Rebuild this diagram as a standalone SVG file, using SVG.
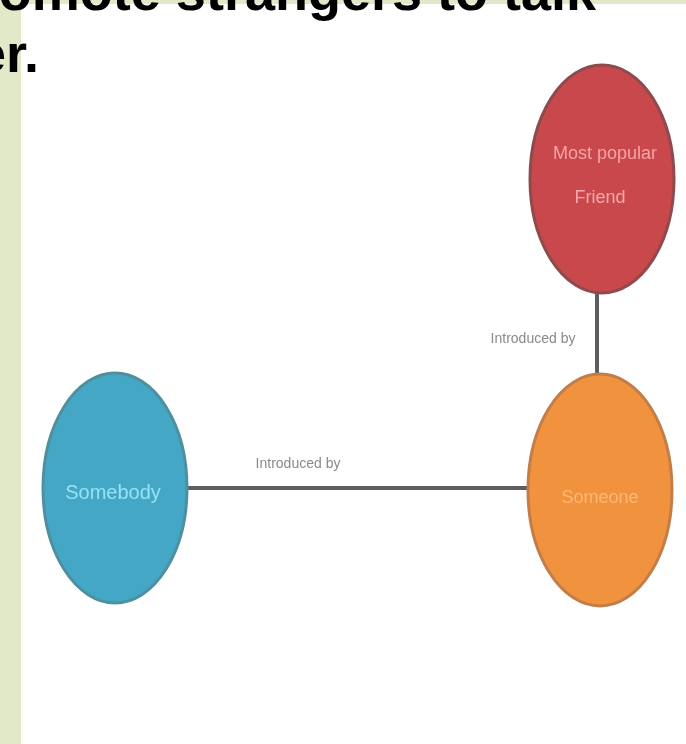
<svg xmlns="http://www.w3.org/2000/svg" width="686" height="744" viewBox="0 0 686 744">
<style>
.head{font-family:"Liberation Sans",Arial,sans-serif;font-weight:bold;font-size:54px;fill:#000}
.lbl{font-family:"Liberation Sans",Arial,sans-serif;font-size:14px;fill:#8a8a8a}
.nt{font-family:"Liberation Sans",Arial,sans-serif;font-size:18px;text-anchor:middle}
.conn{stroke:#5e5e5e;stroke-width:4;fill:none}
</style>
<defs>
<filter id="soft" x="-10%" y="-10%" width="120%" height="120%"><feGaussianBlur stdDeviation="0.7"/></filter>
</defs>
<rect x="0" y="0" width="686" height="744" fill="#e1e9c9"/>
<rect x="21" y="4" width="665" height="740" fill="#ffffff"/>
<text class="head" x="596" y="10" text-anchor="end">omote strangers to talk</text>
<text class="head" x="39" y="72" text-anchor="end">er.</text>
<g id="connectors">
<line class="conn" x1="597" y1="292" x2="597" y2="376"/>
<line class="conn" x1="186" y1="488" x2="528" y2="488"/>
<text class="lbl" x="533" y="343" text-anchor="middle" filter="url(#soft)">Introduced by</text>
<text class="lbl" x="298" y="468" text-anchor="middle" filter="url(#soft)">Introduced by</text>
</g>
<g id="node-friend">
<ellipse cx="602" cy="179" rx="72" ry="114" fill="#c9484b" stroke="#8e4a4c" stroke-width="3"/>
<text class="nt" x="605" y="159" fill="#f6a3a6" filter="url(#soft)">Most popular</text>
<text class="nt" x="600" y="203" fill="#f6a8ac" filter="url(#soft)">Friend</text>
</g>
<g id="node-orange">
<ellipse cx="600" cy="490" rx="72" ry="116" fill="#f1933e" stroke="#c27d48" stroke-width="3"/>
<text class="nt" x="600" y="503" fill="#ffb676" filter="url(#soft)">Someone</text>
</g>
<g id="node-blue">
<ellipse cx="115" cy="488" rx="72" ry="115" fill="#45a7c6" stroke="#4e8fa0" stroke-width="3"/>
<text class="nt" x="113" y="499" fill="#95e2f2" filter="url(#soft)" style="font-size:20px">Somebody</text>
</g>
</svg>
